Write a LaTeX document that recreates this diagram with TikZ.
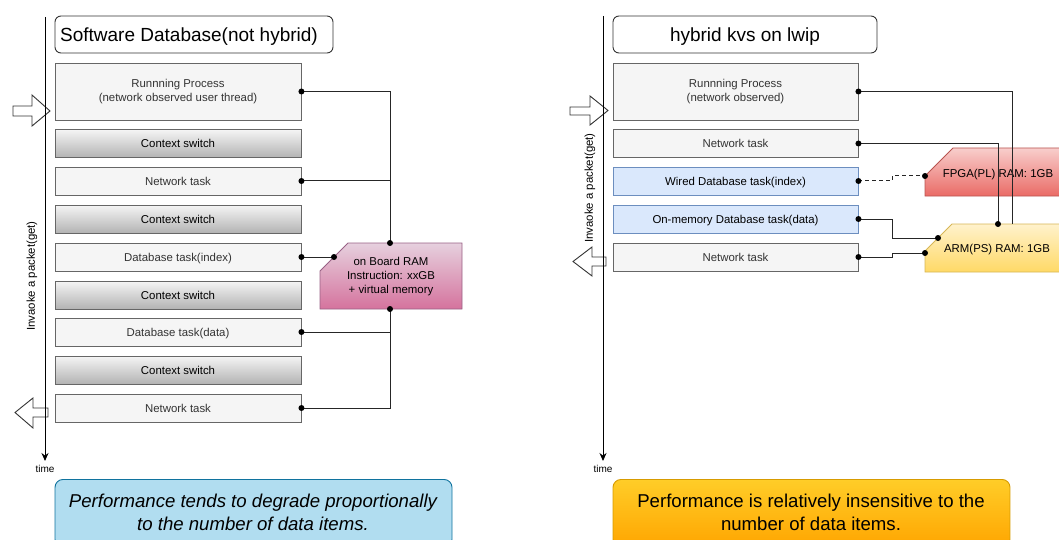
\documentclass[tikz,border=0pt]{standalone}
\usepackage{fontspec}
\setmainfont{Liberation Sans}
\usetikzlibrary{arrows.meta}
\definecolor{boxline}{HTML}{666666}
\definecolor{grayfill}{HTML}{F5F5F5}
\definecolor{txtgray}{HTML}{333333}
\definecolor{ctxbot}{HTML}{B3B3B3}
\definecolor{bluefill}{HTML}{DAE8FC}
\definecolor{blueline}{HTML}{6C8EBF}
\definecolor{pinktop}{HTML}{E6D0DE}
\definecolor{pinkbot}{HTML}{D5739D}
\definecolor{pinkline}{HTML}{996185}
\definecolor{redtop}{HTML}{F8CECC}
\definecolor{redbot}{HTML}{EA6B66}
\definecolor{redline}{HTML}{B85450}
\definecolor{yeltop}{HTML}{FFF2CC}
\definecolor{yelbot}{HTML}{FFD966}
\definecolor{yelline}{HTML}{D6B656}
\definecolor{skyfill}{HTML}{B1DDF0}
\definecolor{skyline}{HTML}{10739E}
\definecolor{orgtop}{HTML}{FFCD28}
\definecolor{orgbot}{HTML}{FFA500}
\definecolor{orgline}{HTML}{D79B00}
\newcommand{\fsmall}{\fontsize{11.4}{14}\selectfont}
\newcommand{\ftitle}{\fontsize{19}{22}\selectfont}
\newcommand{\fbig}{\fontsize{18.6}{22.5}\selectfont}
\begin{document}
\begin{tikzpicture}[x=1pt,y=-1pt,
  rowbox/.style={draw=boxline, line width=0.9pt, minimum width=246pt, minimum height=28pt,
    inner sep=0pt, font=\fsmall, text=txtgray, align=center},
  oneline/.style={text height=8.2pt, text depth=0pt},
  graybox/.style={rowbox, fill=grayfill},
  ctxbox/.style={rowbox, oneline, top color=grayfill, bottom color=ctxbot, text=black},
  bluebox/.style={rowbox, oneline, fill=bluefill, draw=blueline, text=black},
  titlebox/.style={draw=txtgray, line width=0.9pt, rounded corners=6pt, fill=white,
    minimum height=37pt, inner sep=0pt},
  titletext/.style={font=\ftitle, inner sep=0pt, text height=13.7pt, text depth=0pt},
  conn/.style={line width=1pt, draw=black!85},
  dotc/.style={fill=black},
  blockarrow/.style={draw=txtgray, line width=0.9pt, fill=white, line join=miter},
  axis/.style={line width=1pt, -{Stealth[length=8pt,width=7pt]}},
  lbl/.style={font=\fsmall, text=black, align=center, inner sep=0pt},
]
\useasboundingbox (0,0) rectangle (1059,540);

% ================= LEFT PANEL =================
\draw[blockarrow] (13,106) -- (32,106) -- (32,95) -- (50,111) -- (32,126) -- (32,116) -- (13,116) -- cycle;
\draw[blockarrow] (15,412.5) -- (33,398) -- (33,408) -- (48,408) -- (48,417) -- (33,417) -- (33,428) -- cycle;
\coordinate (laxtop) at (45,17);
\coordinate (laxbot) at (45,461);
\draw[axis] (laxtop) -- (laxbot);
\node[font=\fontsize{10}{12}\selectfont, inner sep=0pt] (ltime) at (45,469) {time};
\node[lbl, rotate=90] (linv) at (32,276) {Invaoke a packet(get)};

\node[titlebox, minimum width=278pt] (ltitle) at (194,34.5) {};
\node[titletext] (ltitletxt) at (189,34.5) {Software Database(not hybrid)};

\node[graybox, minimum height=57pt] (lrp) at (178,91.5) {Runnning Process\\(network observed user thread)};
\node[ctxbox] (lcs1) at (178,143.5) {Context switch};
\node[graybox, oneline] (lnet1) at (178,181) {Network task};
\node[ctxbox] (lcs2) at (178,219) {Context switch};
\node[graybox, oneline] (ldbi) at (178,257) {Database task(index)};
\node[ctxbox] (lcs3) at (178,295) {Context switch};
\node[graybox, oneline] (ldbd) at (178,332) {Database task(data)};
\node[ctxbox] (lcs4) at (178,370) {Context switch};
\node[graybox, oneline] (lnet2) at (178,408) {Network task};

\path[draw=pinkline, line width=0.9pt, top color=pinktop, bottom color=pinkbot]
  (320,271) -- (348,243) -- (462,243) -- (462,309) -- (320,309) -- cycle;
\node[lbl] (ram) at (391,276.5) {on Board RAM\\Instruction: xxGB\\+ virtual memory};
\coordinate (ramtop) at (390,243);
\coordinate (rambot) at (390,309);
\coordinate (ramcut) at (334,257);

\draw[conn] (lrp.east) -| (ramtop);
\draw[conn] (lnet1.east) -- (lnet1.east -| ramtop);
\draw[conn] (ldbi.east) -- (ramcut);
\draw[conn] (rambot) |- (lnet2.east);
\draw[conn] (ldbd.east) -- (ldbd.east -| rambot);
\foreach \p in {lrp.east, lnet1.east, ldbi.east, ldbd.east, lnet2.east, ramtop, rambot, ramcut}
  \fill[dotc] (\p) circle (3pt);

\node[draw=skyline, line width=0.9pt, fill=skyfill, rounded corners=8pt,
  minimum width=397pt, minimum height=68pt, inner sep=0pt, anchor=north] (lperf) at (253.5,479) {};
\node[font=\fbig\itshape, align=center, inner sep=0pt] (lperftxt) at (253,512.5)
  {Performance tends to degrade proportionally\\to the number of data items.};

% ================= RIGHT PANEL =================
\draw[blockarrow] (570,107) -- (590,107) -- (590,96) -- (608,110.5) -- (590,125) -- (590,115) -- (570,115) -- cycle;
\draw[blockarrow] (573,261.5) -- (592,247) -- (592,257) -- (606,257) -- (606,266) -- (592,266) -- (592,276) -- cycle;
\coordinate (raxtop) at (603,16);
\coordinate (raxbot) at (603,461);
\draw[axis] (raxtop) -- (raxbot);
\node[font=\fontsize{10}{12}\selectfont, inner sep=0pt] (rtime) at (603,469) {time};
\node[lbl, rotate=90] (rinv) at (590,188) {Invaoke a packet(get)};

\node[titlebox, minimum width=264pt] (rtitle) at (745,34.5) {};
\node[titletext] (rtitletxt) at (745,34.5) {hybrid kvs on lwip};

\node[graybox, minimum width=245pt, minimum height=57pt] (rrp) at (735.5,91.5) {Runnning Process\\(network observed)};
\node[graybox, oneline, minimum width=245pt] (rnet1) at (735.5,143.5) {Network task};
\node[bluebox, minimum width=245pt] (rwdb) at (735.5,181) {Wired Database task(index)};
\node[bluebox, minimum width=245pt] (rodb) at (735.5,219) {On-memory Database task(data)};
\node[graybox, oneline, minimum width=245pt] (rnet2) at (735.5,257) {Network task};

\path[draw=redline, line width=0.9pt, top color=redtop, bottom color=redbot]
  (925,176) -- (953,148) -- (1075,148) -- (1075,196) -- (925,196) -- cycle;
\node[lbl, oneline] (fpga) at (998,173) {FPGA(PL) RAM: 1GB};
\coordinate (fpgain) at (925,176);

\path[draw=yelline, line width=0.9pt, top color=yeltop, bottom color=yelbot]
  (925,251) -- (952,224) -- (1075,224) -- (1075,272) -- (925,272) -- cycle;
\node[lbl, oneline] (arm) at (997,248) {ARM(PS) RAM: 1GB};
\coordinate (armtopL) at (998,224);
\coordinate (armtopR) at (1012,224);
\coordinate (armcut) at (938,238);
\coordinate (armleft) at (925,253);

\draw[conn] (rrp.east) -| (armtopR);
\draw[conn] (rnet1.east) -| (armtopL);
\draw[conn, dash pattern=on 4pt off 3pt] (rwdb.east) -- ++(34,0) |- (fpgain);
\draw[conn] (rodb.east) -- ++(34,0) |- (armcut);
\draw[conn] (rnet2.east) -- ++(34,0) |- (armleft);
\foreach \p in {rrp.east, rnet1.east, rwdb.east, rodb.east, rnet2.east, armtopL, armcut, armleft, fpgain}
  \fill[dotc] (\p) circle (3pt);

\node[draw=orgline, line width=0.9pt, top color=orgtop, bottom color=orgbot, rounded corners=8pt,
  minimum width=397pt, minimum height=68pt, inner sep=0pt, anchor=north] (rperf) at (811.5,479) {};
\node[font=\fbig, align=center, inner sep=0pt] (rperftxt) at (811,512.5)
  {Performance is relatively insensitive to the\\number of data items.};
\end{tikzpicture}
\end{document}
